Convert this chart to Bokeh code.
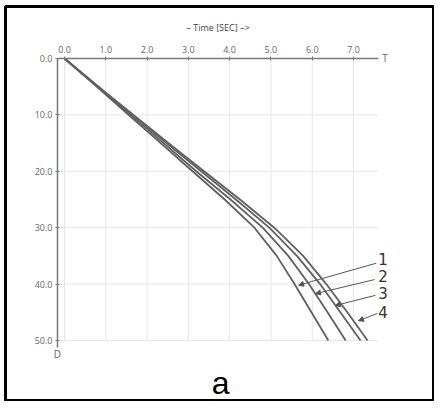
from bokeh.plotting import figure
from bokeh.models import Range1d, FixedTicker, NumeralTickFormatter, Label, Arrow, NormalHead, LinearAxis
from bokeh.embed import file_html
from bokeh.resources import INLINE

# depth (vertical axis, downward) and arrival time for the four curves
depth = [0, 5, 10, 15, 20, 25, 30, 35, 40, 45, 50]
time_1 = [0, 0.78, 1.55, 2.33, 3.10, 3.88, 4.60, 5.14, 5.57, 5.98, 6.39]
time_2 = [0, 0.80, 1.60, 2.40, 3.19, 4.02, 4.80, 5.42, 5.92, 6.37, 6.81]
time_3 = [0, 0.82, 1.65, 2.47, 3.31, 4.15, 4.96, 5.63, 6.19, 6.68, 7.17]
time_4 = [0, 0.82, 1.67, 2.52, 3.38, 4.25, 5.08, 5.78, 6.34, 6.85, 7.34]

x_ticks = [0, 1, 2, 3, 4, 5, 6, 7]
y_ticks = [0, 10, 20, 30, 40, 50]
x_axis_end = 7.6
y_axis_end = 51.2
y_axis_at = -0.17

curve_labels = ["1", "2", "3", "4"]
label_t = [7.60, 7.60, 7.60, 7.60]
label_d = [35.5, 38.5, 41.5, 45.0]
arrow_tail_t = [7.55, 7.51, 7.53, 7.58]
arrow_tail_d = [36.3, 39.2, 42.0, 45.2]
arrow_head_t = [5.67, 6.08, 6.56, 7.12]
arrow_head_d = [40.2, 41.7, 43.8, 46.5]

GRAY = "#666666"
AXIS = "#7a7a7a"
GRID = "#e6e6e6"

p = figure(width=434, height=401, output_backend="svg", toolbar_location=None,
           x_range=Range1d(-1.429, 8.961), y_range=Range1d(60.82, -9.22),
           x_axis_type=None, y_axis_type=None,
           min_border_left=5, min_border_right=0,
           min_border_top=6, min_border_bottom=0,
           outline_line_color="black", outline_line_width=3)
p.xgrid.visible = False
p.ygrid.visible = False

# grid lines at the tick positions
p.segment(x0=x_ticks, y0=[0] * len(x_ticks), x1=x_ticks, y1=[50] * len(x_ticks),
          line_color=GRID, line_width=1)
p.segment(x0=[y_axis_at] * len(y_ticks), y0=y_ticks, x1=[x_axis_end] * len(y_ticks), y1=y_ticks,
          line_color=GRID, line_width=1)

for t in (time_1, time_2, time_3, time_4):
    p.line(t, depth, line_color="#606060", line_width=1.8)

xax = LinearAxis(fixed_location=0, bounds=(y_axis_at, x_axis_end))
yax = LinearAxis(fixed_location=y_axis_at, bounds=(0, y_axis_end))
for ax in (xax, yax):
    ax.axis_line_color = AXIS
    ax.axis_line_width = 1.5
    ax.major_tick_line_color = AXIS
    ax.major_tick_in = 2
    ax.major_tick_out = 2
    ax.minor_tick_line_color = None
    ax.major_label_text_color = GRAY
    ax.major_label_text_font = "Open Sans"
    ax.major_label_text_font_size = "9px"
    ax.major_label_standoff = 3
    ax.formatter = NumeralTickFormatter(format="0.0")
xax.ticker = FixedTicker(ticks=x_ticks)
yax.ticker = FixedTicker(ticks=y_ticks)
xax.axis_label = "– Time [SEC] –>"
xax.axis_label_text_font = "Open Sans"
xax.axis_label_text_font_style = "normal"
xax.axis_label_text_font_size = "9px"
xax.axis_label_text_color = "#444444"
xax.axis_label_standoff = 10
p.add_layout(xax, "above")
p.add_layout(yax, "left")

p.add_layout(Label(x=x_axis_end, y=0, x_offset=4, text="T", text_font="Open Sans",
                   text_font_size="10px", text_color=GRAY, text_baseline="middle"))
p.add_layout(Label(x=y_axis_at, y=52.4, text="D", text_font="Open Sans",
                   text_font_size="10px", text_color=GRAY, text_baseline="middle",
                   text_align="center"))

for lab, lt, ld in zip(curve_labels, label_t, label_d):
    p.add_layout(Label(x=lt, y=ld, text=lab, text_font="DejaVu Sans",
                       text_font_size="15px", text_color="#333333",
                       text_baseline="middle", text_align="left"))

for x0, y0, x1, y1 in zip(arrow_tail_t, arrow_tail_d, arrow_head_t, arrow_head_d):
    p.add_layout(Arrow(x_start=x0, y_start=y0, x_end=x1, y_end=y1,
                       line_color="#555555", line_width=1,
                       end=NormalHead(size=5, fill_color="#555555", line_color="#555555")))

p.add_layout(Label(x=3.78, y=57.6, text="a", text_font="Liberation Sans",
                   text_font_size="32px", text_color="black",
                   text_align="center", text_baseline="middle"))

open("out.html", "w").write(file_html(p, INLINE))
